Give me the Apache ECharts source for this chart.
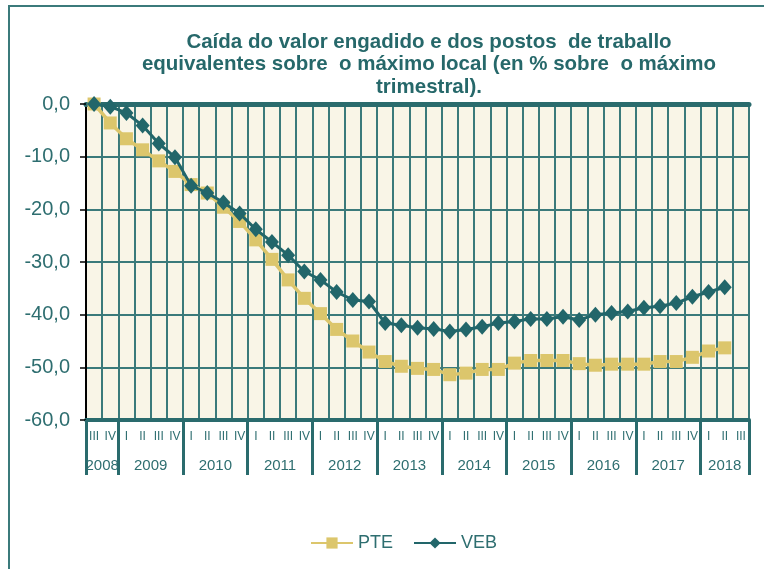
<!DOCTYPE html>
<html>
<head>
<meta charset="utf-8">
<script src="https://cdn.jsdelivr.net/npm/echarts@6/dist/echarts.min.js"></script>
<style>html,body{margin:0;padding:0;background:#fff;}#c{width:764px;height:569px;}</style>
</head>
<body>
<div id="c"></div>
<script>
// Year blocks and quarter labels
var years = ['2008','2009','2010','2011','2012','2013','2014','2015','2016','2017','2018'];
var quartersPerYear = [2,4,4,4,4,4,4,4,4,4,3];
var quarterNames = ['I','II','III','IV'];
var firstQuarterStart = 2; // 2008 starts at III (index 2)

// Series values (% below local maximum)
var PTE = [0.0,-3.6,-6.6,-8.7,-10.8,-12.8,-15.3,-16.9,-19.6,-22.3,
  -25.8,-29.5,-33.4,-36.9,-39.8,-42.8,-45.0,-47.1,-48.9,-49.8,
  -50.2,-50.4,-51.4,-51.1,-50.4,-50.4,-49.2,-48.7,-48.7,-48.7,
  -49.3,-49.6,-49.4,-49.4,-49.4,-48.9,-48.9,-48.1,-46.9,-46.3];
var VEB = [0.0,-0.5,-1.7,-4.1,-7.5,-10.1,-15.5,-16.9,-18.7,-20.8,
  -23.8,-26.2,-28.7,-31.8,-33.4,-35.7,-37.2,-37.5,-41.6,-42.0,
  -42.5,-42.7,-43.2,-42.8,-42.3,-41.6,-41.3,-40.8,-40.8,-40.4,
  -41.0,-40.0,-39.7,-39.4,-38.7,-38.4,-37.8,-36.6,-35.7,-34.8];

var yTicks = {min: -60, max: 0, step: 10};

// build category list
var quarters = [];
var yearStarts = {};
var yearMid = {};
var pos = 0;
for (var y = 0; y < years.length; y++) {
  yearStarts[pos] = true;
  yearMid[Math.round((pos + quartersPerYear[y] / 2) * 2)] = years[y];
  for (var q = 0; q < quartersPerYear[y]; q++) {
    var qi = (y === 0 ? firstQuarterStart : 0) + q;
    quarters.push(quarterNames[qi]);
  }
  pos += quartersPerYear[y];
}

var TEAL = '#2a6b6d';
var GRID = '#3b7a7b';
var TXT = '#2e6e70';
var FONT = '"Liberation Sans", Arial, sans-serif';

var chart = echarts.init(document.getElementById('c'));
chart.setOption({
  animation: false,
  backgroundColor: '#ffffff',
  title: {
    text: 'Caída do valor engadido e dos postos  de traballo\nequivalentes sobre  o máximo local (en % sobre  o máximo\ntrimestral).',
    left: 429, top: 31, padding: 0, textAlign: 'center',
    textStyle: {fontFamily: FONT, fontSize: 20.5, fontWeight: 'bold', color: '#26686a', lineHeight: 22.5}
  },
  graphic: [{
    type: 'rect', shape: {x: 9, y: 6, width: 800, height: 600},
    style: {fill: null, stroke: '#3b7a7b', lineWidth: 2}, silent: true, z: -1
  }],
  legend: {
    bottom: 12, left: 305, itemWidth: 42, itemHeight: 14, itemGap: 20,
    textStyle: {fontFamily: FONT, fontSize: 18, color: TXT},
    data: ['PTE', 'VEB']
  },
  grid: {left: 86, right: 15, top: 104, bottom: 149, show: true, backgroundColor: '#f9f5e7', borderWidth: 0},
  xAxis: [{
    type: 'category', data: quarters, position: 'bottom', boundaryGap: true,
    axisLine: {onZero: false, lineStyle: {color: TEAL, width: 4}},
    axisTick: {show: true, length: 55, interval: function (i) { return !!yearStarts[i]; },
      lineStyle: {color: TEAL, width: 3}},
    axisLabel: {interval: 0, margin: 11, fontFamily: FONT, fontSize: 12, color: TXT},
    splitLine: {show: true, interval: 0, lineStyle: {color: GRID, width: 2}}
  }, {
    type: 'value', min: 0, max: quarters.length, interval: 0.5, position: 'bottom',
    axisLine: {show: false, onZero: false}, axisTick: {show: false}, splitLine: {show: false},
    axisLabel: {margin: 38, fontFamily: FONT, fontSize: 15, color: TXT, showMinLabel: true, showMaxLabel: true,
      formatter: function (v) { var k = Math.round(v * 2); return yearMid[k] || ''; }}
  }, {
    type: 'category', data: quarters, position: 'top',
    axisLine: {onZero: false, lineStyle: {color: TEAL, width: 5}},
    axisTick: {show: false}, axisLabel: {show: false}, splitLine: {show: false}
  }],
  yAxis: {
    type: 'value', min: yTicks.min, max: yTicks.max, interval: yTicks.step,
    axisLine: {show: true, onZero: false, lineStyle: {color: '#000', width: 2}},
    axisTick: {show: true, length: 6, lineStyle: {color: '#000', width: 1.5}},
    axisLabel: {margin: 16, fontFamily: FONT, fontSize: 20, color: TXT,
      formatter: function (v) { return v.toFixed(1).replace('.', ','); }},
    splitLine: {show: true, lineStyle: {color: GRID, width: 2}}
  },
  series: [{
    name: 'PTE', type: 'line', data: PTE, xAxisIndex: 0,
    symbol: 'rect', symbolSize: 13, z: 3,
    lineStyle: {color: '#dcc66c', width: 3.5}, itemStyle: {color: '#dcc66c'}
  }, {
    name: 'VEB', type: 'line', data: VEB, xAxisIndex: 0,
    symbol: 'diamond', symbolSize: [14, 16], z: 4,
    lineStyle: {color: '#22666a', width: 3}, itemStyle: {color: '#22666a'}
  }]
});
</script>
</body>
</html>
